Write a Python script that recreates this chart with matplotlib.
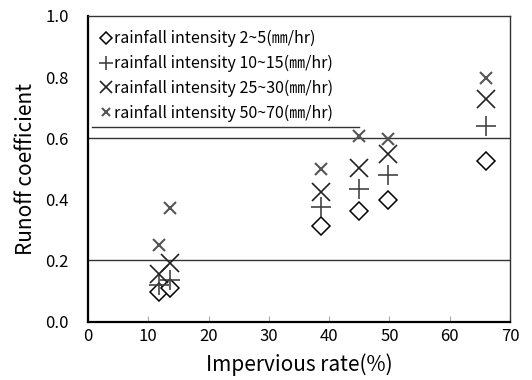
import numpy as np
import matplotlib
matplotlib.use('Agg')
import matplotlib.pyplot as plt

plt.rcParams['font.family'] = ['Noto Sans CJK JP', 'DejaVu Sans']

# impervious rate (%) of each site
impervious = [11.7, 13.6, 38.7, 44.9, 49.7, 66.0]

# runoff coefficient per rainfall intensity class
rc_2_5 = [0.097, 0.111, 0.314, 0.363, 0.398, 0.527]
rc_10_15 = [0.119, 0.137, 0.376, 0.435, 0.480, 0.639]
rc_25_30 = [0.154, 0.191, 0.424, 0.501, 0.547, 0.728]
rc_50_70 = [0.251, 0.370, 0.500, 0.606, 0.596, 0.796]

labels = ['rainfall intensity 2~5(㎜/hr)',
          'rainfall intensity 10~15(㎜/hr)',
          'rainfall intensity 25~30(㎜/hr)',
          'rainfall intensity 50~70(㎜/hr)']

xticks = [0, 10, 20, 30, 40, 50, 60, 70]
yticks = [0.0, 0.2, 0.4, 0.6, 0.8, 1.0]

fig = plt.figure(figsize=(5.32, 3.80), dpi=100)
ax = fig.add_axes([88/532, 1 - 321.5/380, 422/532, 305.5/380])

for yv in [0.2, 0.6]:
    ax.axhline(yv, color='#333333', lw=1.0, zorder=1)

ax.plot(impervious, rc_2_5, ls='none', marker='D', ms=9, mfc='white',
        mec='black', mew=1.1, label=labels[0], zorder=3)
ax.plot(impervious, rc_10_15, ls='none', marker='+', ms=14, mec='#444444',
        mew=1.2, label=labels[1], zorder=3)
ax.plot(impervious, rc_25_30, ls='none', marker='x', ms=13, mec='#222222',
        mew=1.2, label=labels[2], zorder=3)
ax.plot(impervious, rc_50_70, ls='none', marker='x', ms=8, mec='#555555',
        mew=1.5, label=labels[3], zorder=3)

ax.set_xlim(0, 70)
ax.set_ylim(0, 1.0)
ax.set_xticks(xticks)
ax.set_yticks(yticks)
ax.set_xticklabels([str(v) for v in xticks], fontsize=12)
ax.set_yticklabels(['{:.1f}'.format(v) for v in yticks], fontsize=12)
ax.tick_params(axis='x', direction='in', length=4, width=0.8, color='#aaaaaa', pad=5)
ax.tick_params(axis='y', length=0, pad=14)

for side in ['left', 'bottom']:
    ax.spines[side].set_linewidth(1.6)
for side in ['top', 'right']:
    ax.spines[side].set_linewidth(1.0)
    ax.spines[side].set_color('#333333')

ax.set_xlabel('Impervious rate(%)', fontsize=15, labelpad=6)
ax.set_ylabel('Runoff coefficient', fontsize=15, labelpad=6)

leg = ax.legend(loc='upper left', bbox_to_anchor=(0.017, 0.975), frameon=False,
                fontsize=11.5, handlelength=0.5, handletextpad=0.3,
                labelspacing=0.48, borderaxespad=0.0, markerscale=0.7)

# underline beneath the legend
ax.plot([0.7, 44.9], [0.638, 0.638], color='#333333', lw=1.0, zorder=2)

fig.savefig('out.png', dpi=100)
